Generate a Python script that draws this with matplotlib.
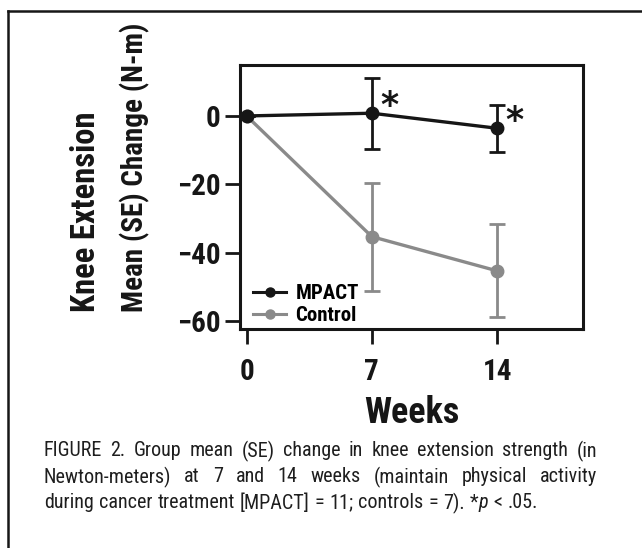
import matplotlib
matplotlib.use('Agg')
import matplotlib.pyplot as plt
from matplotlib import font_manager
from matplotlib.font_manager import FontProperties
from matplotlib.lines import Line2D

weeks = [0, 7, 14]
mpact_mean = [0, 0.8, -3.6]
mpact_se = [0, 10.4, 6.8]
control_mean = [0, -35.3, -45.3]
control_se = [0, 15.8, 13.6]
y_ticks = [0, -20, -40, -60]
star_weeks = [7, 14]
caption = [
    'FIGURE 2. Group mean (SE) change in knee extension strength (in',
    'Newton-meters) at 7 and 14 weeks (maintain physical activity',
    'during cancer treatment [MPACT] = 11; controls = 7). *p < .05.',
]

black = '#161616'
grey = '#8a8a8a'


def weight_num(w):
    if isinstance(w, int):
        return w
    return {'bold': 700, 'normal': 400, 'regular': 400, 'semibold': 600,
            'medium': 500, 'heavy': 800, 'black': 900}.get(str(w), 400)


def narrow_font(bold, italic=False):
    # look for a condensed face, fall back to DejaVu Sans
    order = ['Roboto Condensed', 'Liberation Sans Narrow', 'Open Sans Condensed',
             'Noto Sans', 'Noto Sans Condensed', 'Noto Sans Display',
             'DejaVu Sans', 'Lato', 'Inter']
    found = []
    for f in font_manager.fontManager.ttflist:
        cond = ('Condensed' in f.name or 'Narrow' in f.name
                or f.stretch in ('condensed', 'semi-condensed', 'extra-condensed'))
        if not cond:
            continue
        if (f.style == 'italic') != italic:
            continue
        wn = weight_num(f.weight)
        if bold and wn < 600:
            continue
        if not bold and wn not in (400, 500):
            continue
        rank = order.index(f.name) if f.name in order else len(order)
        found.append((rank, abs(wn - (700 if bold else 400)), f.fname))
    if found:
        found.sort()
        return FontProperties(fname=found[0][2])
    return FontProperties(family='DejaVu Sans', weight='bold' if bold else 'normal',
                          style='italic' if italic else 'normal')


def fp_size(fp, size):
    fp = fp.copy()
    fp.set_size(size)
    return fp


fp_bold = narrow_font(True)
fp_reg = narrow_font(False)
fp_ital = narrow_font(False, italic=True)

fig = plt.figure(figsize=(6.42, 5.48), dpi=100)
ax = fig.add_axes([240 / 642, 1 - 329 / 548, 343 / 642, 264 / 548])

ax.errorbar(weeks, control_mean, yerr=control_se, color=grey, lw=2.4,
            marker='o', ms=9, capsize=5.5, elinewidth=2, capthick=2, zorder=2)
ax.errorbar(weeks, mpact_mean, yerr=mpact_se, color=black, lw=2.4,
            marker='o', ms=9, capsize=5.5, elinewidth=2, capthick=2, zorder=3)

for w in star_weeks:
    i = weeks.index(w)
    ax.text(w + 0.45, mpact_mean[i] + 2.0, '*', fontsize=25, fontweight='bold',
            ha='left', va='center', color=black, family='DejaVu Sans')

ax.set_xlim(-0.37, 18.8)
ax.set_ylim(-62.3, 14.9)
ax.set_xticks(weeks)
ax.set_yticks(y_ticks)
ax.set_xticklabels([str(w) for w in weeks])
ax.set_yticklabels(['0' if t == 0 else '\u2212' + str(-t) for t in y_ticks])
for lab in ax.get_xticklabels() + ax.get_yticklabels():
    lab.set_fontproperties(fp_size(fp_bold, 21))
for s in ax.spines.values():
    s.set_linewidth(2.2)
    s.set_color(black)
ax.tick_params(axis='both', length=11, width=2, color=black, labelcolor=black)
ax.tick_params(axis='x', pad=10)
ax.tick_params(axis='y', pad=3)

handles = [Line2D([], [], color=black, lw=2.2, marker='o', ms=6.5),
           Line2D([], [], color=grey, lw=2.2, marker='o', ms=6.5)]
ax.legend(handles, ['MPACT', 'Control'], loc='lower left', frameon=False,
          prop=fp_size(fp_bold, 15), handlelength=1.6, handletextpad=0.45,
          labelspacing=0.15, borderaxespad=0.3,
          bbox_to_anchor=(-0.005, -0.04))

fig.text(102 / 642, 1 - 312 / 548, 'Knee Extension', rotation=90,
         ha='right', va='bottom', color=black,
         fontproperties=fp_size(fp_bold, 23.5))
fig.text(150 / 642, 1 - 312 / 548, 'Mean (SE) Change (N-m)', rotation=90,
         ha='right', va='bottom', color=black,
         fontproperties=fp_size(fp_bold, 21))
fig.text(412 / 642, 1 - 413 / 548, 'Weeks', ha='center', va='center',
         color=black, fontproperties=fp_size(fp_bold, 26))

# caption, justified for the first two lines
fig.canvas.draw()
renderer = fig.canvas.get_renderer()
x0, x1 = 44, 597
line_y = [451, 477, 503]
cap_size = 14.5
for k, line in enumerate(caption):
    arts = []
    for wd in line.split(' '):
        if wd == '*p':
            pieces = [('*', fp_reg), ('p', fp_ital)]
        else:
            pieces = [(wd, fp_reg)]
        for txt, fp in pieces:
            t = fig.text(0, 0, txt, color='#1e1e1e', va='center', ha='left',
                         fontproperties=fp_size(fp, cap_size))
            arts.append((t, txt == '*'))
    widths = [a.get_window_extent(renderer).width for a, _ in arts]
    nspace = sum(1 for _, glued in arts if not glued) - 1
    space = cap_size * 100 / 72 * 0.25
    if k < 2:
        space = (x1 - x0 - sum(widths)) / nspace
    x = x0
    for (a, glued), w in zip(arts, widths):
        a.set_position((x / 642, 1 - line_y[k] / 548))
        x += w + (0 if glued else space)

# outer frame (top and left edges only)
fig.add_artist(Line2D([8 / 642, 1], [1 - 11 / 548, 1 - 11 / 548],
                      color=black, lw=1.8, transform=fig.transFigure))
fig.add_artist(Line2D([8 / 642, 8 / 642], [0, 1 - 11 / 548],
                      color=black, lw=1.8, transform=fig.transFigure))

fig.savefig('out.png', dpi=100)
